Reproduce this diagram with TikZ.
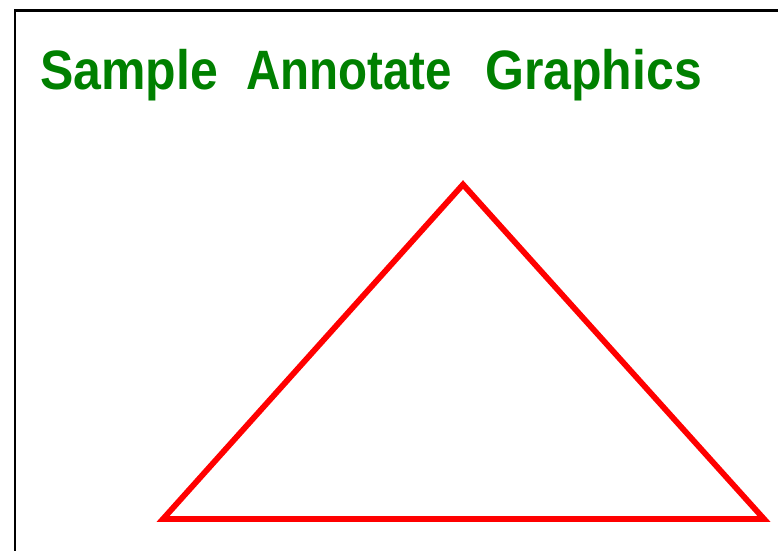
\documentclass[tikz,border=0pt]{standalone}
\usepackage{fontspec}
\setmainfont{Liberation Sans}
\definecolor{titlegreen}{RGB}{0,128,0}
\definecolor{trired}{RGB}{255,0,0}
\newcommand{\tallword}[2][1]{\scalebox{#1}[1.11]{#2}}
\begin{document}
\begin{tikzpicture}[x=1pt,y=-1pt,
  titleword/.style={anchor=base west,inner sep=0pt,text=titlegreen,font=\fontsize{50}{56}\selectfont\bfseries},
  frameline/.style={line width=2.5pt,black},
  triline/.style={line width=5.8pt,trired,line join=miter}]
\useasboundingbox (0,0) rectangle (778,550);
\clip (0,0) rectangle (778,550);
\draw[frameline] (15,560) -- (15,10.5) -- (790,10.5);
\node[titleword] (w1) at (40,89) {\tallword{Sample}};
\node[titleword] (w2) at (246,89) {\tallword[0.95]{Annotate}};
\node[titleword] (w3) at (485,89) {\tallword{Graphics}};
\coordinate (bl) at (163,519);
\coordinate (ap) at (463,184.5);
\coordinate (br) at (764,519);
\draw[triline] (bl) -- (ap) -- (br) -- cycle;
\end{tikzpicture}
\end{document}
